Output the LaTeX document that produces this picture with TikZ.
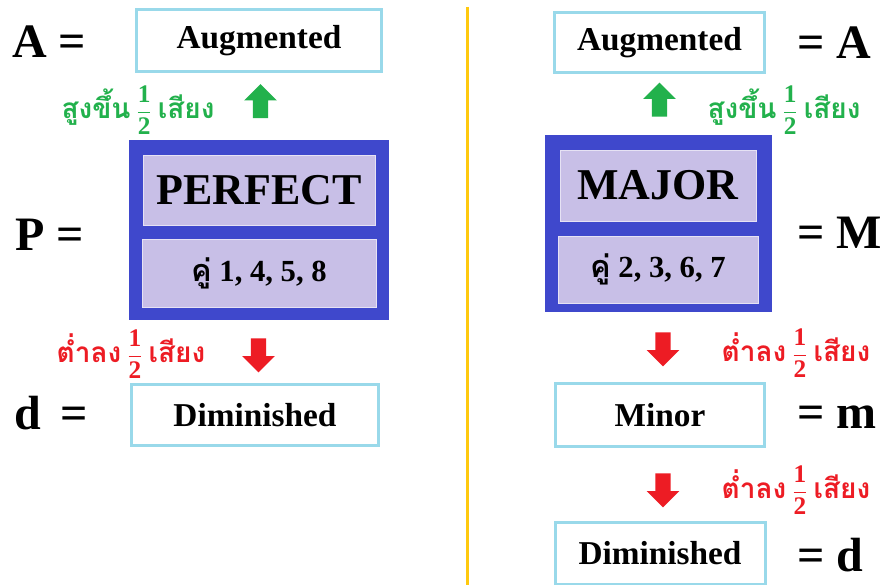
\documentclass[tikz,border=0pt]{standalone}
\usepackage{amsmath}
\usepackage{fontspec}
\setmainfont{Liberation Serif}
\newfontfamily\thaifont[Script=Thai]{Loma}
\usetikzlibrary{shapes.arrows}
\definecolor{ivBlue} {HTML}{3F48CC}
\definecolor{ivLav}  {HTML}{C8BFE7}
\definecolor{ivSky}  {HTML}{99D9EA}
\definecolor{ivGold} {HTML}{FFC90E}
\definecolor{ivGreen}{HTML}{22B14C}
\definecolor{ivRed}  {HTML}{ED1C24}
\newcommand{\digitbf}[1]{\mbox{\fontsize{19}{19}\selectfont\bfseries #1}}
\newcommand{\halfstep}{$\genfrac{}{}{0.9pt}{0}{\digitbf{1}}{\digitbf{2}}$}
\newcommand{\thaiword}[1]{{\thaifont\bfseries\fontsize{21}{22}\selectfont #1}}
\newcommand{\upword}{\thaiword{สูงขึ้น}~\halfstep~\thaiword{เสียง}}
\newcommand{\dnword}{\thaiword{ต่ำลง}~\halfstep~\thaiword{เสียง}}

\begin{document}
\begin{tikzpicture}[x=0.75pt,y=-0.75pt,
      box/.style={draw=ivSky,fill=white,line width=2.25pt,inner sep=0pt,
                  font=\fontsize{25}{28}\selectfont\bfseries},
      grp/.style={fill=ivBlue,inner sep=0pt},
      inr/.style={draw=white!55!ivLav,fill=ivLav,line width=0.6pt,inner sep=0pt},
      lbl/.style={anchor=west,inner sep=0pt,font=\fontsize{36}{40}\selectfont\bfseries},
      blk/.style={single arrow,draw=none,inner xsep=0pt,inner ysep=5.6pt,
                  minimum height=25.5pt,single arrow head extend=6.4pt,
                  single arrow tip angle=90},
      up/.style={blk,fill=ivGreen,rotate=90},
      dn/.style={blk,fill=ivRed,rotate=-90},
      hint/.style={inner sep=0pt,font=\fontsize{17}{20}\selectfont\bfseries}]
    \clip (0,0) rectangle (886,585);
    \fill[white] (0,0) rectangle (886,585);

    % left: perfect intervals
    \node[box,minimum width=183.75pt,minimum height=46.5pt] (augL) at (259,40.5) {Augmented};
    \node[lbl] (aL) at (12,42) {A =};
    \node[up] (upL) at (260.5,105) {};
    \node[hint,text=ivGreen] (riseL) at (138,110) {\upword};

    \node[grp,minimum width=195pt,minimum height=135pt] (perf) at (259,230) {};
    \node[inr,minimum width=174pt,minimum height=52.5pt,
          font=\fontsize{33}{36}\selectfont\bfseries] (perfT) at (259,190) {PERFECT};
    \node[inr,minimum width=175.5pt,minimum height=51pt,
          font=\fontsize{23}{26}\selectfont\bfseries] (perfB) at (259,273)
          {{\thaifont คู่}~1, 4, 5, 8};
    \node[lbl] (pL) at (15,235) {P =};

    \node[hint,text=ivRed] (fallL) at (131,354) {\dnword};
    \node[dn] (dnL) at (258.5,351.5) {};
    \node[box,minimum width=185.25pt,minimum height=45.75pt] (dimL) at (255,415) {Diminished};
    \node[lbl] (dL) at (14,413) {d \,=};

    % divider
    \draw[ivGold,line width=2.25pt] (467,7) -- (467,590);

    % right: major / minor intervals
    \node[box,minimum width=157.5pt,minimum height=45pt] (augR) at (659.5,42.5) {Augmented};
    \node[lbl] (aR) at (797,43) {= A};
    \node[up] (upR) at (659.5,103.5) {};
    \node[hint,text=ivGreen] (riseR) at (784,110) {\upword};

    \node[grp,minimum width=170.25pt,minimum height=132.75pt] (maj) at (658.5,223.5) {};
    \node[inr,minimum width=147pt,minimum height=53.25pt,
          font=\fontsize{33}{36}\selectfont\bfseries] (majT) at (658,185.5) {MAJOR};
    \node[inr,minimum width=150pt,minimum height=50.25pt,
          font=\fontsize{23}{26}\selectfont\bfseries] (majB) at (658,269.5)
          {{\thaifont คู่}~2, 3, 6, 7};
    \node[lbl] (mR) at (797,233) {= M};

    \foreach \n/\y in {1/345.5,2/486.5}
      \node[dn] (dn\n) at (663,\y) {};
    \foreach \n/\y in {1/353,2/490}
      \node[hint,text=ivRed] (fall\n) at (796,\y) {\dnword};
    \node[box,minimum width=156.75pt,minimum height=47.25pt] (minR) at (660,415) {Minor};
    \node[lbl] (mnR) at (797,417) {= m};
    \node[box,minimum width=157.5pt,minimum height=46.5pt] (dimR) at (660,553.5) {Diminished};
    \node[lbl] (dR) at (797,555) {= d};
  \end{tikzpicture}
\end{document}
